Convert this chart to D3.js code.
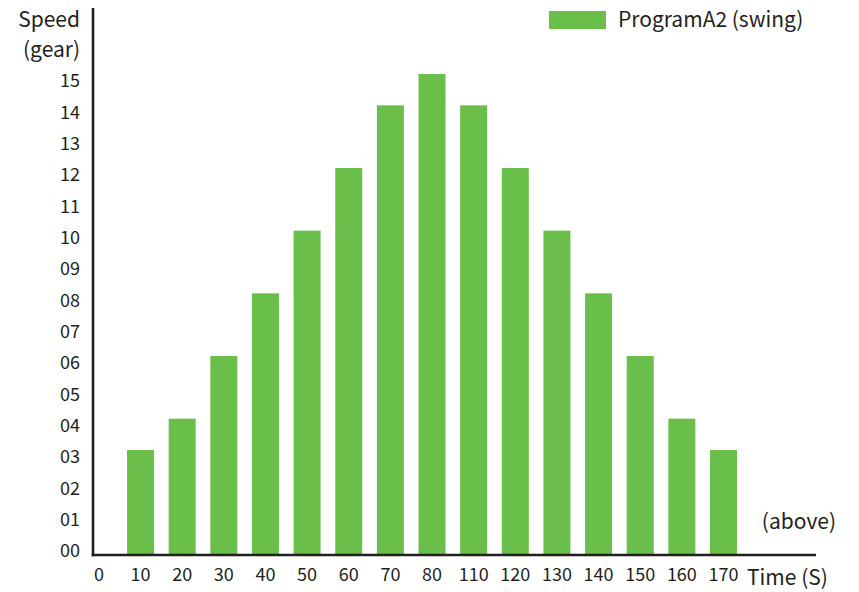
<!DOCTYPE html>
<html>
<head>
<meta charset="utf-8">
<script src="https://cdn.jsdelivr.net/npm/d3@7"></script>
<style>
body { margin: 0; background: #fff; }
text { font-family: "Noto Sans CJK SC", "Noto Sans", sans-serif; fill: #231f20; }
</style>
</head>
<body>
<div class="chart"></div>
<script>
var width = 859;
var height = 592;

// data
var timeLabels = ["0", "10", "20", "30", "40", "50", "60", "70", "80", "110", "120", "130", "140", "150", "160", "170"];
var barTimes = ["10", "20", "30", "40", "50", "60", "70", "80", "110", "120", "130", "140", "150", "160", "170"];
var speeds = [3, 4, 6, 8, 10, 12, 14, 15, 14, 12, 10, 8, 6, 4, 3];
var speedTicks = d3.range(0, 16);
var seriesName = "ProgramA2 (swing)";

var axisX0 = 93, axisY0 = 555;

var x = d3.scaleBand()
    .domain(timeLabels)
    .range([85.4, 737])
    .paddingInner(0.3516)
    .paddingOuter(0);

var y = d3.scaleLinear().domain([0, 15]).range([544, 74]);

var svg = d3.select(".chart")
    .append("svg")
    .attr("width", width)
    .attr("height", height);

// bars
svg.selectAll(".bar")
    .data(barTimes)
    .enter().append("rect")
    .attr("class", "bar")
    .attr("x", function(d) { return x(d); })
    .attr("width", x.bandwidth())
    .attr("y", function(d, i) { return y(speeds[i]); })
    .attr("height", function(d, i) { return axisY0 - y(speeds[i]); })
    .attr("fill", "#6abf4a");

// y tick labels
var yAxis = d3.axisLeft(y)
    .tickValues(speedTicks)
    .tickSize(0)
    .tickPadding(13)
    .tickFormat(d3.format("02d"));

var yg = svg.append("g")
    .attr("transform", "translate(" + axisX0 + ", 7)")
    .call(yAxis);
yg.select(".domain").remove();
yg.selectAll("text").style("font-size", "18px").attr("fill", "#231f20");

// x tick labels
var xAxis = d3.axisBottom(x).tickSize(0).tickPadding(13);
var xg = svg.append("g")
    .attr("transform", "translate(0, " + axisY0 + ")")
    .call(xAxis);
xg.select(".domain").remove();
xg.selectAll("text").style("font-size", "18px").attr("fill", "#231f20");

// axis lines
svg.append("line")
    .attr("x1", axisX0).attr("x2", axisX0)
    .attr("y1", 8).attr("y2", axisY0 + 1.3)
    .attr("stroke", "#231f20").attr("stroke-width", 2.6);

svg.append("line")
    .attr("x1", axisX0 - 1.3).attr("x2", 816)
    .attr("y1", axisY0).attr("y2", axisY0)
    .attr("stroke", "#231f20").attr("stroke-width", 2.6);

// axis titles
svg.append("text")
    .attr("x", 80).attr("y", 27)
    .style("text-anchor", "end")
    .style("font-size", "21px")
    .text("Speed");

svg.append("text")
    .attr("x", 80).attr("y", 57)
    .style("text-anchor", "end")
    .style("font-size", "21px")
    .text("(gear)");

svg.append("text")
    .attr("x", 836).attr("y", 529)
    .style("text-anchor", "end")
    .style("font-size", "21px")
    .text("(above)");

svg.append("text")
    .attr("x", 747).attr("y", 585)
    .style("font-size", "21px")
    .text("Time (S)");

// legend
svg.append("rect")
    .attr("x", 549).attr("y", 11)
    .attr("width", 57).attr("height", 18)
    .attr("fill", "#6abf4a");

svg.append("text")
    .attr("x", 618).attr("y", 27)
    .style("font-size", "21px")
    .text(seriesName);
</script>
</body>
</html>
